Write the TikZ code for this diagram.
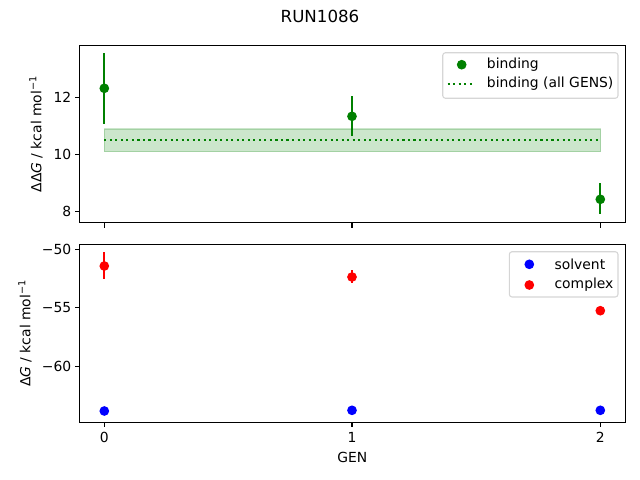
\documentclass[tikz,border=0pt]{standalone}
\usepackage{fontspec}
\setmainfont{DejaVu Sans}
\definecolor{mplgreen}{RGB}{0,128,0}
\definecolor{mplblue}{RGB}{0,0,255}
\definecolor{mplred}{RGB}{255,0,0}
\begin{document}
\begin{tikzpicture}[x=.72pt,y=-.72pt,
	lbl/.style={font=\fontsize{10}{12}\selectfont,inner sep=0pt},
	dot/.style={circle,fill,inner sep=0pt,minimum size=7pt},
	ebar/.style={line width=1.5pt},
	spine/.style={line width=.8pt},
	legbox/.style={draw=black!20,line width=.8pt,rounded corners=2pt,fill=white,fill opacity=.8,draw opacity=.8}]
	\useasboundingbox (0,0) rectangle (640,480);
	\node[font=\fontsize{12}{14}\selectfont,inner sep=0pt] (title) at (320,16){RUN1086};
	% top axes
	\fill[mplgreen,fill opacity=.2] (104.3,129)--(600.5,129)--(600.5,151.7)--(104.3,151.7)--cycle;
	\draw[mplgreen,opacity=.2,line width=1pt] (104.3,129)--(600.5,129)--(600.5,151.7)--(104.3,151.7)--cycle;
	\draw[mplgreen,line width=1.5pt,dash pattern=on 1.5pt off 2.475pt] (104.3,139.7)--(600.5,139.7);
	\draw[mplgreen,ebar] (104.3,53.3)--(104.3,123.7);
	\draw[mplgreen,ebar] (352,96)--(352,135.7);
	\draw[mplgreen,ebar] (600.3,183)--(600.3,214.3);
	\node[dot,mplgreen] (b0) at (104.3,88.3){};
	\node[dot,mplgreen] (b1) at (352,116.3){};
	\node[dot,mplgreen] (b2) at (600.3,199.3){};
	\draw[spine] (79.5,45.3) rectangle (625.3,222.7);
	\foreach \x in {104.3,352,600.3} \draw[spine] (\x,222.7)--(\x,227.6);
	\foreach \y/\t in {97.3/12,154.3/10,211.7/8}{
		\draw[spine] (79.5,\y)--(74.6,\y);
		\node[lbl,anchor=east] at (71.5,\y){\t};}
	\node[lbl,rotate=90] (ylabtop) at (36,134){ΔΔ\textit{G} / kcal mol\textsuperscript{−1}};
	\draw[legbox] (442.7,52.7) rectangle (618,98.3);
	\node[dot,mplgreen] (legb) at (461.7,64.7){};
	\node[lbl,anchor=west] at (486.7,64.7){binding};
	\draw[mplgreen,line width=1.5pt,dash pattern=on 1.5pt off 2.475pt] (447.7,84)--(475,84);
	\node[lbl,anchor=west] at (486.7,84){binding (all GENS)};
	% bottom axes
	\draw[mplred,ebar] (104.3,252)--(104.3,279.3);
	\draw[mplred,ebar] (352,270)--(352,283.3);
	\draw[mplred,ebar] (600.3,306.5)--(600.3,315);
	\node[dot,mplblue] (s0) at (104.3,411){};
	\node[dot,mplblue] (s1) at (352,410.3){};
	\node[dot,mplblue] (s2) at (600.3,410.3){};
	\node[dot,mplred] (c0) at (104.3,266){};
	\node[dot,mplred] (c1) at (352,277){};
	\node[dot,mplred] (c2) at (600.3,310.7){};
	\draw[spine] (79.5,244.3) rectangle (625.3,422.3);
	\foreach \x/\t in {104.3/0,352/1,600.3/2}{
		\draw[spine] (\x,422.3)--(\x,427.2);
		\node[lbl] at (\x,437.5){\t};}
	\foreach \y/\t in {249.3/−50,307.7/−55,366.3/−60}{
		\draw[spine] (79.5,\y)--(74.6,\y);
		\node[lbl,anchor=east] at (71.5,\y){\t};}
	\node[lbl,rotate=90] (ylabbot) at (25,333.3){Δ\textit{G} / kcal mol\textsuperscript{−1}};
	\node[lbl] (xlab) at (352.3,457.7){GEN};
	\draw[legbox] (509.3,251.7) rectangle (618,297);
	\node[dot,mplblue] (legs) at (529.3,264.3){};
	\node[lbl,anchor=west] at (554.3,264.3){solvent};
	\node[dot,mplred] (legc) at (529.3,285){};
	\node[lbl,anchor=west] at (554.3,285){complex};
\end{tikzpicture}
\end{document}
